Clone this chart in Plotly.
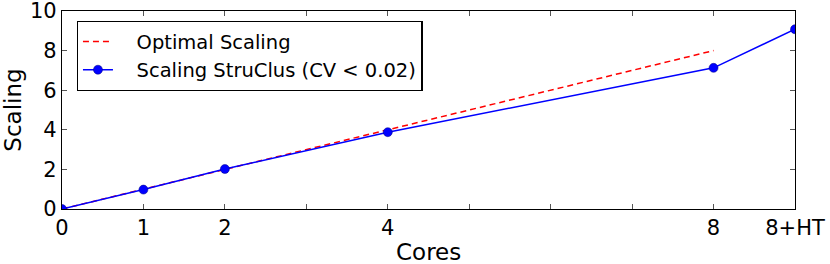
import plotly.graph_objects as go

cores = [0, 1, 2, 4, 8, 9]
optimal_x = [0, 1, 2, 4, 8]
optimal_y = [0, 1, 2, 4, 8]
struclus_y = [0, 0.98, 2.02, 3.88, 7.13, 9.08]
tick_vals = [0, 1, 2, 3, 4, 5, 6, 7, 8, 9]
tick_text = ["0", "1", "2", "", "4", "", "", "", "8", "8+HT"]
y_ticks = [0, 2, 4, 6, 8, 10]

FONT = "DejaVu Sans"
PAD = "\u00a0\u00a0\u00a0"

fig = go.Figure()
fig.add_trace(go.Scatter(
    x=optimal_x, y=optimal_y, mode="lines", name=PAD + "Optimal Scaling",
    legendgroup="a",
    line=dict(color="#ff0000", width=1.5, dash="6px,4px"),
))
fig.add_trace(go.Scatter(
    x=cores, y=struclus_y, mode="lines+markers", name=PAD + "Scaling StruClus (CV < 0.02)",
    legendgroup="b",
    line=dict(color="#0000ff", width=1.5),
    marker=dict(color="#0000ff", size=9, line=dict(color="#000080", width=0.5)),
))

axis_common = dict(
    showgrid=False, zeroline=False, showline=True, linecolor="#000000", linewidth=1.3,
    mirror="ticks", ticks="inside", ticklen=5, tickwidth=1, tickcolor="#555555",
    tickfont=dict(family=FONT, size=21, color="#000000"), automargin=False,
    ticklabeloverflow="allow",
)

fig.update_layout(
    width=830, height=264,
    margin=dict(l=62, r=35, t=11, b=55),
    paper_bgcolor="white", plot_bgcolor="white",
    font=dict(family=FONT, color="#000000"),
    xaxis=dict(range=[0, 9], tickvals=tick_vals, ticktext=tick_text, **axis_common),
    yaxis=dict(range=[0, 10], tickvals=y_ticks,
               title=dict(text="Scaling", font=dict(family=FONT, size=23), standoff=6),
               **axis_common),
    legend=dict(x=0.02, y=0.95, xanchor="left", yanchor="top",
                bordercolor="#000000", borderwidth=1.3, bgcolor="white",
                font=dict(family=FONT, size=19.5), traceorder="grouped",
                tracegroupgap=0),
    annotations=[dict(text="Cores", xref="paper", yref="paper", x=0.5, y=-0.215,
                      xanchor="center", yanchor="middle", showarrow=False,
                      borderpad=0,
                      font=dict(family=FONT, size=23, color="#000000"))],
)

fig.write_html("out.html", config={"displayModeBar": False},
               post_script="document.body.style.margin='0px';document.body.style.overflow='hidden';")
